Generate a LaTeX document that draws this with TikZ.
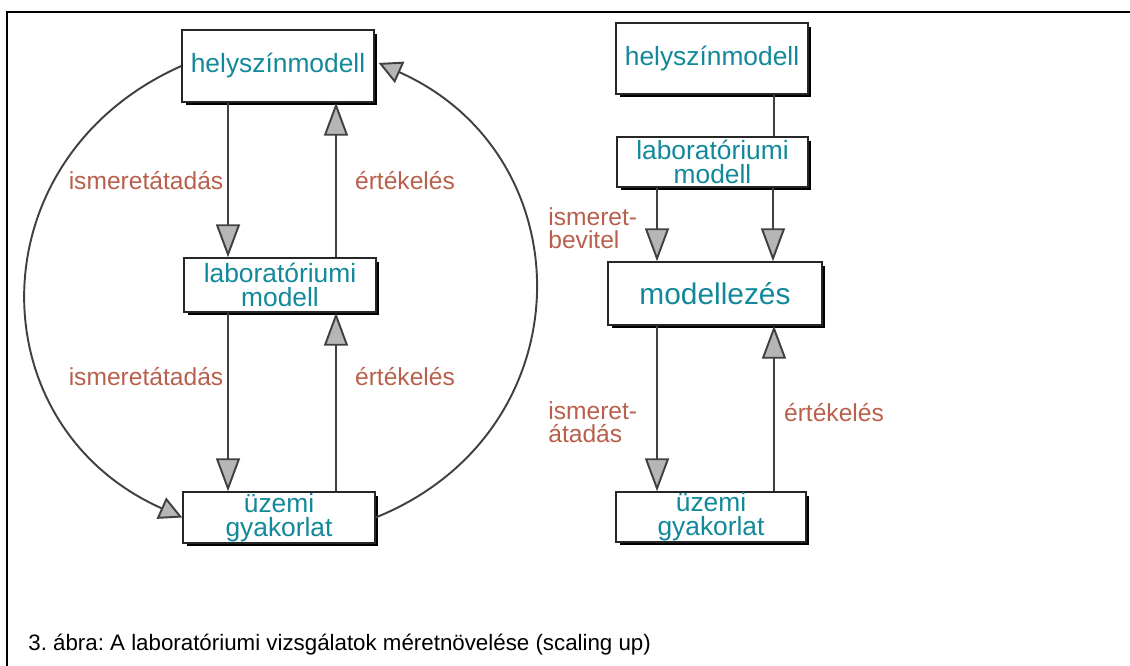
\documentclass[tikz,border=0pt]{standalone}
\usepackage{fontspec}
\setmainfont{Liberation Sans}
\usetikzlibrary{arrows.meta,shadows}
\frenchspacing

\definecolor{modelblue}{RGB}{18,137,154}
\definecolor{labelred}{RGB}{184,96,76}
\definecolor{linegray}{RGB}{64,64,64}
\definecolor{tipgray}{RGB}{182,182,182}

\tikzset{
  box/.style={draw=black!85, line width=0.8pt, fill=white, inner sep=0pt,
    align=center, text=modelblue, font=\fontsize{15}{13.8}\selectfont,
    drop shadow={shadow xshift=0.07cm, shadow yshift=-0.07cm, fill=black, opacity=1}},
  link/.style={draw=linegray, line width=1.1pt},
  flow/.style={link, -{Triangle[length=0.66cm, width=0.48cm, fill=tipgray]}},
  loopflow/.style={link, -{Triangle[length=0.46cm, width=0.46cm, fill=tipgray]}},
  lbl/.style={text=labelred, font=\fontsize{14}{12.8}\selectfont, inner sep=0pt}
}

\begin{document}
\begin{tikzpicture}[x=0.02cm, y=0.02cm]
  \useasboundingbox (0,0) rectangle (1130,-666);

  % Frame
  \draw[line width=1.4pt] (7,-666) -- (7,-12) -- (1130,-12);

  % Left diagram
  \node[box, minimum width=3.84cm, minimum height=1.44cm] (hsL) at (278,-66) {helyszínmodell};
  \node[box, minimum width=3.84cm, minimum height=1.08cm] (labL) at (280,-285) {laboratóriumi\\modell};
  \node[box, minimum width=3.84cm, minimum height=1.02cm] (uzL) at (279,-517.5) {üzemi\\gyakorlat};

  \draw[flow] ([xshift=-1cm]hsL.south) -- ([xshift=-1cm]hsL.south |- labL.north);
  \draw[flow] ([xshift=1.12cm]labL.north) -- ([xshift=1.12cm]labL.north |- hsL.south);
  \draw[flow] ([xshift=-1.04cm]labL.south) -- ([xshift=-1.04cm]labL.south |- uzL.north);
  \draw[flow] ([xshift=1.14cm]uzL.north) -- ([xshift=1.14cm]uzL.north |- labL.south);

  \draw[loopflow] (hsL.west) to[out=204, in=156, looseness=1.28] (uzL.west);
  \draw[loopflow] (uzL.east) to[out=22, in=336, looseness=1.28] ([xshift=0.08cm, yshift=0.06cm]hsL.east);

  \node[lbl] (isL1) at (146,-181) {ismeretátadás};
  \node[lbl] (erL1) at (405,-181) {értékelés};
  \node[lbl] (isL2) at (146,-377) {ismeretátadás};
  \node[lbl] (erL2) at (405,-377) {értékelés};

  % Right diagram
  \node[box, minimum width=3.84cm, minimum height=1.42cm] (hsR) at (712,-58.5) {helyszínmodell};
  \node[box, minimum width=3.82cm, minimum height=1.0cm] (labR) at (712.5,-162) {laboratóriumi\\modell};
  \node[box, minimum width=4.28cm, minimum height=1.26cm, font=\fontsize{17}{13}\selectfont] (modR) at (715,-293.5) {modellezés};
  \node[box, minimum width=3.8cm, minimum height=1.0cm] (uzR) at (711,-517) {üzemi\\gyakorlat};

  \draw[link] ([xshift=1.24cm]hsR.south) -- ([xshift=1.24cm]hsR.south |- labR.north);
  \draw[flow] ([xshift=-1.11cm]labR.south) -- ([xshift=-1.11cm]labR.south |- modR.north);
  \draw[flow] ([xshift=1.21cm]labR.south) -- ([xshift=1.21cm]labR.south |- modR.north);
  \draw[flow] ([xshift=-1.16cm]modR.south) -- ([xshift=-1.16cm]modR.south |- uzR.north);
  \draw[flow] ([xshift=1.26cm]uzR.north) -- ([xshift=1.26cm]uzR.north |- modR.south);

  \node[lbl, anchor=west, align=left] (isR1) at (548,-228) {ismeret-\\bevitel};
  \node[lbl, anchor=west, align=left] (isR2) at (548,-422) {ismeret-\\átadás};
  \node[lbl] (erR) at (834,-413) {értékelés};

  % Caption
  \node[anchor=west, inner sep=0pt, font=\fontsize{12.7}{14}\selectfont] (cap) at (28,-645)
    {3. ábra: A laboratóriumi vizsgálatok méretnövelése (scaling up)};
\end{tikzpicture}
\end{document}
